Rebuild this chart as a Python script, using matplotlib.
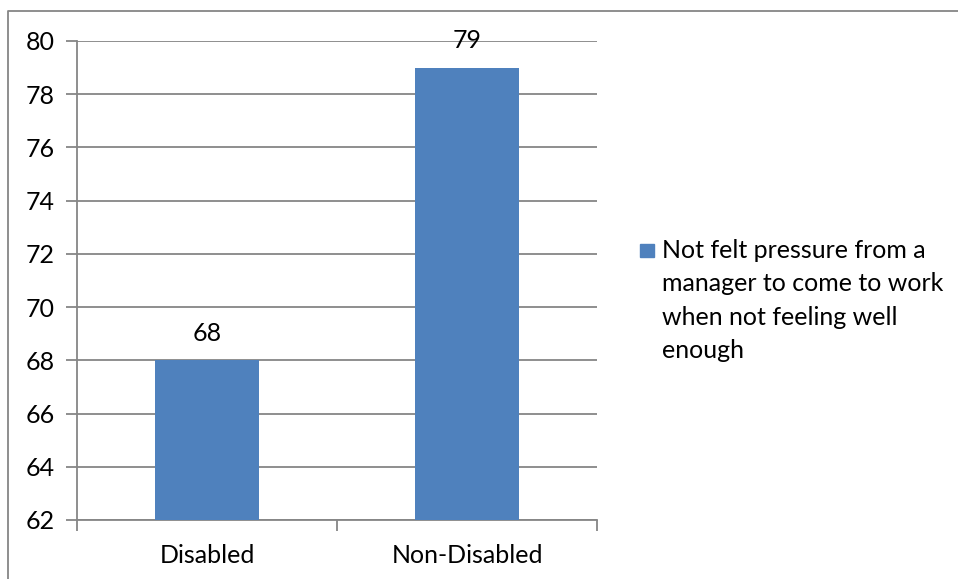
import matplotlib
matplotlib.use("Agg")
import matplotlib.pyplot as plt
from matplotlib.lines import Line2D
from matplotlib.patches import Rectangle
import numpy as np

plt.rcParams['font.family'] = ['Lato', 'DejaVu Sans']

# survey data
categories = ['Disabled', 'Non-Disabled']
values = [68, 79]
series_label = 'Not felt pressure from a\nmanager to come to work\nwhen not feeling well\nenough'
yticks = np.arange(62, 81, 2)

bar_color = '#4F81BD'
grid_color = '#868686'
fs = 18

fig = plt.figure(figsize=(9.58, 5.79), dpi=100)
ax = fig.add_axes([77/958, 1-520/579, 520/958, 479/579])

x = np.arange(len(categories))
bars = ax.bar(x, values, width=0.4, color=bar_color, zorder=3)

ax.set_xlim(-0.5, len(categories) - 0.5)
ax.set_ylim(62, 80)
ax.set_yticks(yticks)
ax.set_yticklabels([str(v) for v in yticks], fontsize=fs)
ax.yaxis.grid(True, color=grid_color, linewidth=1.3, zorder=0)

# category labels sit between the boundary ticks
ax.set_xticks(x)
ax.set_xticklabels(categories, fontsize=fs)
ax.tick_params(axis='x', length=0, pad=17)
ax.set_xticks(np.arange(-0.5, len(categories)), minor=True)
ax.tick_params(axis='x', which='minor', length=8, width=1.3, color=grid_color)
ax.tick_params(axis='y', length=8, width=1.3, color=grid_color, pad=8)

for side in ['top', 'right']:
    ax.spines[side].set_visible(False)
for side in ['left', 'bottom']:
    ax.spines[side].set_color(grid_color)
    ax.spines[side].set_linewidth(1.3)

for rect, v in zip(bars, values):
    ax.annotate(str(v), (rect.get_x() + rect.get_width() / 2, v),
                xytext=(0, 19.5), textcoords='offset points',
                ha='center', va='center', fontsize=fs)

# legend: colour swatch beside the first line of the wrapped label
fig.add_artist(Rectangle((640/958, 1-257/579), 14/958, 13/579,
                         transform=fig.transFigure, color=bar_color))
fig.text(662/958, 1-239/579, series_label, fontsize=fs, va='top', ha='left',
         linespacing=1.55)

# chart border
fig.add_artist(Line2D([8/958, 8/958, 1.0], [0.0, 1-11/579, 1-11/579],
                      transform=fig.transFigure, color=grid_color, linewidth=1.3))

fig.savefig('out.png', dpi=100)
